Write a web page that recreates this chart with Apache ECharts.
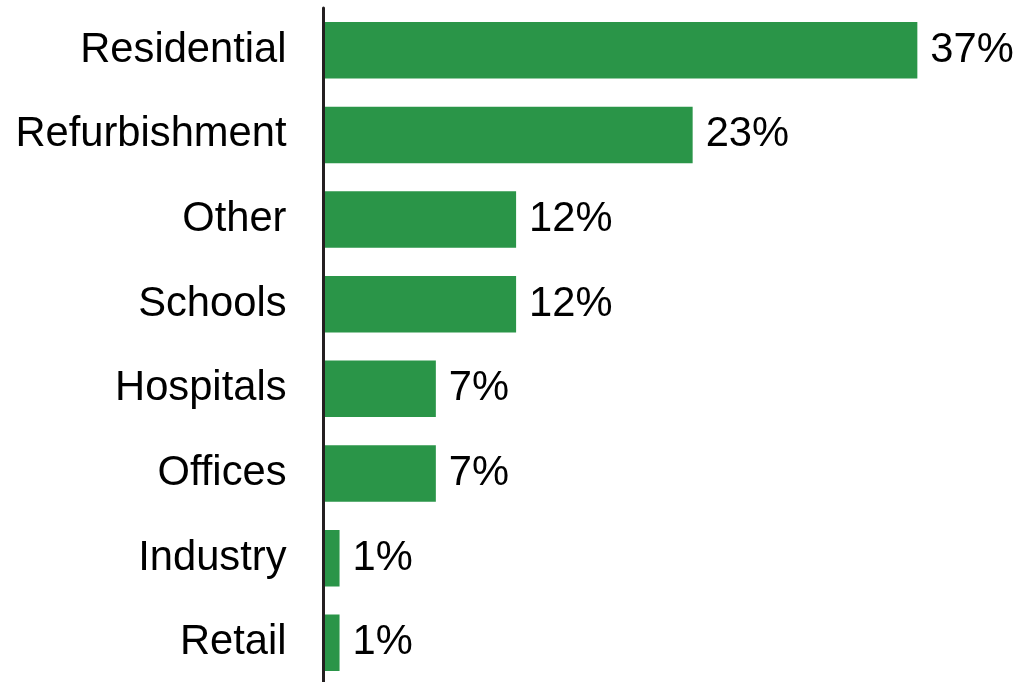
<!DOCTYPE html>
<html>
<head>
<meta charset="utf-8">
<script src="https://cdn.jsdelivr.net/npm/echarts@6/dist/echarts.min.js"></script>
<style>
html,body{margin:0;padding:0;background:#fff;overflow:hidden;}
#c{width:1018px;height:692px;}
</style>
</head>
<body>
<div id="c"></div>
<script>
const categories = ["Residential","Refurbishment","Other","Schools","Hospitals","Offices","Industry","Retail"];
const values = [37, 23, 12, 12, 7, 7, 1, 1];

const chart = echarts.init(document.getElementById('c'), null, {renderer:'canvas'});
const font = '"Liberation Sans", Arial, sans-serif';
chart.setOption({
  animation: false,
  backgroundColor: '#ffffff',
  grid: { left: 323.5, width: 642, top: 8, height: 677.1, containLabel: false },
  xAxis: {
    type: 'value', min: 0, max: 40, show: false
  },
  yAxis: {
    type: 'category', data: categories, inverse: true, z: 5,
    axisLine: { show: true, lineStyle: { color: '#231f20', width: 3 } },
    axisTick: { show: false },
    axisLabel: { margin: 37, color: '#000', fontSize: 41.7, fontFamily: font }
  },
  series: [{
    type: 'bar', data: values, barWidth: 56.5,
    itemStyle: { color: '#2a9548' },
    label: {
      show: true, position: 'right', distance: 13,
      formatter: p => p.value + '%',
      color: '#000', fontSize: 41.7, fontFamily: font
    }
  }]
});
</script>
</body>
</html>
